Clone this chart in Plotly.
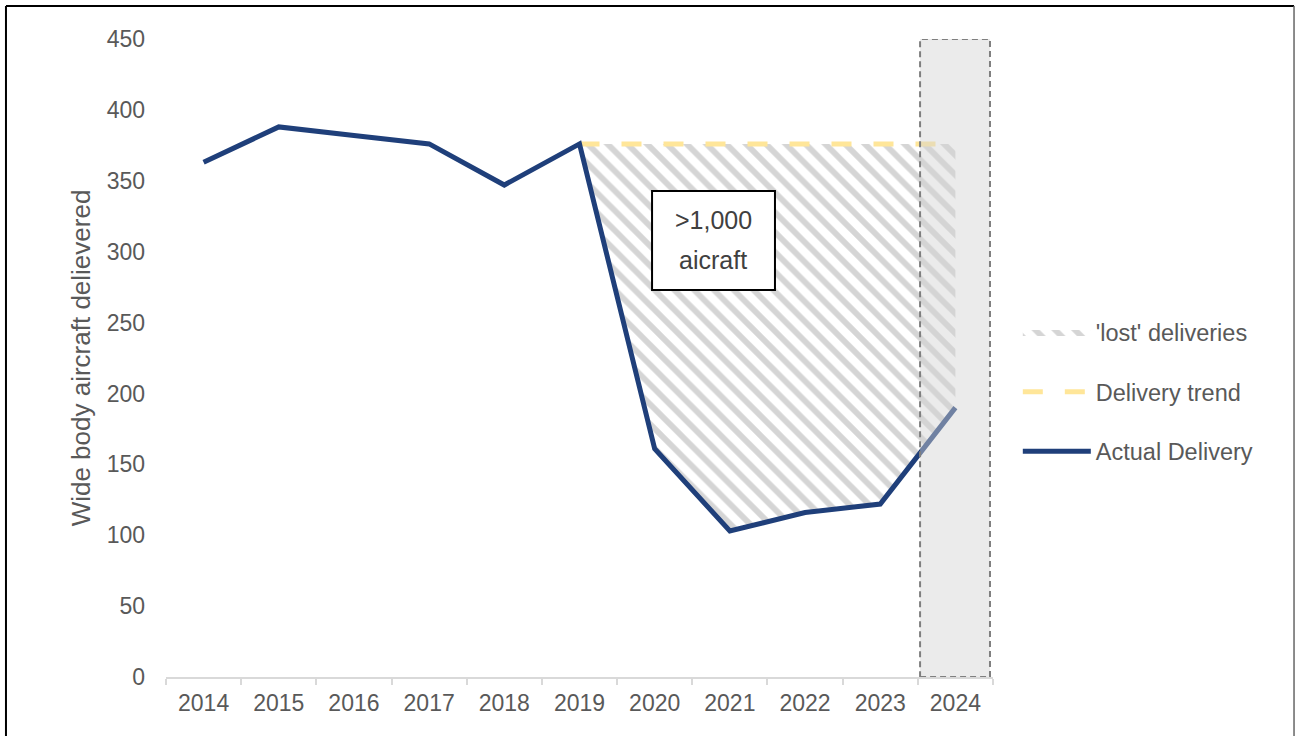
import plotly.graph_objects as go

years = ["2014", "2015", "2016", "2017", "2018", "2019", "2020", "2021", "2022", "2023", "2024"]
actual = [363, 388, 382, 376, 347, 376, 161, 103, 116, 122, 190]
trend_years = ["2019", "2020", "2021", "2022", "2023", "2024"]
trend = [376, 376, 376, 376, 376, 376]
lost_lower = [376, 161, 103, 116, 122, 190]

grey_txt = "#595959"
FONT = "Liberation Sans, Arial, sans-serif"

fig = go.Figure()

# lower boundary for hatched area
fig.add_trace(go.Scatter(x=trend_years, y=lost_lower, mode="lines", line=dict(width=0, color="rgba(0,0,0,0)"),
                         showlegend=False, hoverinfo="skip"))
fig.add_trace(go.Scatter(x=trend_years, y=trend, mode="lines", name="'lost' deliveries",
                         line=dict(width=0, color="rgba(0,0,0,0)"), fill="tonexty",
                         fillcolor="rgba(0,0,0,0)",
                         fillpattern=dict(shape="\\", fgcolor="#ababab", bgcolor="rgba(255,255,255,0)",
                                          size=14, solidity=0.42),
                         legendgroup="a", legendrank=1))
fig.add_trace(go.Scatter(x=trend_years, y=trend, mode="lines", name="Delivery trend",
                         line=dict(width=5, color="#FFE699", dash="20px,22px"),
                         legendgroup="b", legendrank=2))
fig.add_trace(go.Scatter(x=years, y=actual, mode="lines", name="Actual Delivery",
                         line=dict(width=5, color="#1F3F7A"),
                         legendgroup="c", legendrank=3))

shapes = [
    # annotation box
    dict(type="rect", xref="x", yref="y", x0=5.965, x1=7.60, y0=273, y1=342.8, layer="above",
         fillcolor="white", line=dict(color="black", width=2)),
    # forecast shading
    dict(type="rect", xref="x", yref="y", x0=9.53, x1=10.46, y0=0, y1=450, layer="above",
         fillcolor="rgba(210,210,210,0.45)", line=dict(color="#7f7f7f", width=2, dash="6px,4px")),
    # outer frame
    dict(type="line", xref="paper", yref="paper", x0=-0.1935, x1=-0.1935, y0=-0.2, y1=1.0517,
         line=dict(color="black", width=2)),
    dict(type="line", xref="paper", yref="paper", x0=-0.1935, x1=1.364, y0=1.0517, y1=1.0517,
         line=dict(color="black", width=2)),
    dict(type="line", xref="paper", yref="paper", x0=1.364, x1=1.364, y0=-0.2, y1=1.0517,
         line=dict(color="#666666", width=1.5)),
]

fig.update_layout(
    width=1295, height=736,
    margin=dict(l=166, r=302, t=39, b=59),
    paper_bgcolor="white", plot_bgcolor="white",
    font=dict(family=FONT, size=23, color=grey_txt),
    shapes=shapes,
    showlegend=True,
    legend=dict(x=1.03, y=0.447, xanchor="left", yanchor="middle", traceorder="grouped",
                tracegroupgap=26, itemwidth=68, font=dict(size=23.5, color=grey_txt),
                bgcolor="rgba(0,0,0,0)"),
    annotations=[
        dict(x=6.776, y=322, xref="x", yref="y", text=">1,000", showarrow=False,
             font=dict(size=25, color="#404040", family=FONT)),
        dict(x=6.776, y=294, xref="x", yref="y", text="aicraft", showarrow=False,
             font=dict(size=25, color="#404040", family=FONT)),
    ],
)

fig.update_xaxes(type="category", categoryorder="array", categoryarray=years, range=[-0.5, 10.5],
                 tickson="boundaries", ticks="outside", ticklen=6, tickcolor="#d9d9d9", tickwidth=2,
                 showline=True, linecolor="#d9d9d9", linewidth=2, showgrid=False, zeroline=False,
                 ticklabelstandoff=4, tickfont=dict(size=23, color=grey_txt))
fig.update_yaxes(range=[0, 450], tickvals=[0, 50, 100, 150, 200, 250, 300, 350, 400, 450],
                 showgrid=False, zeroline=False, showline=False, ticks="",
                 ticklabelstandoff=20, tickfont=dict(size=23, color=grey_txt),
                 title=dict(text="Wide body aircraft delievered", font=dict(size=26, color=grey_txt), standoff=8))

fig.write_html("out.html", config={"displayModeBar": False},
               post_script="document.body.style.margin='0px';")
